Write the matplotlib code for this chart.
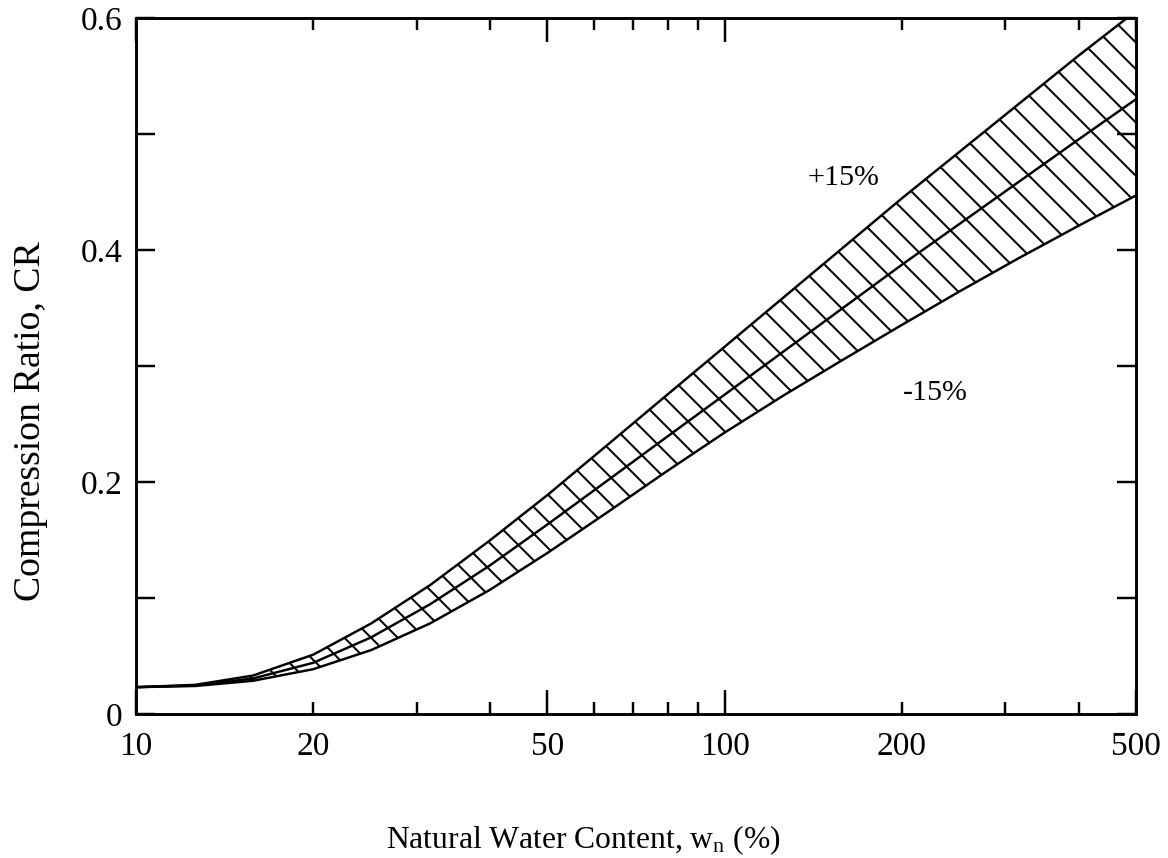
import matplotlib
matplotlib.use('Agg')
import matplotlib.pyplot as plt
from matplotlib.ticker import FixedLocator, NullFormatter

# 차트 데이터
wn = [10, 12.6, 15.8, 20, 25.1, 31.6, 39.8, 50.1, 63.1, 79.4,
      100, 125.9, 158.5, 199.5, 251.2, 316.2, 398.1, 500]
cr_mid = [0.023, 0.0245, 0.0305, 0.044, 0.066, 0.0945, 0.1275, 0.1636, 0.2008, 0.238,
          0.2752, 0.3124, 0.3496, 0.3868, 0.4228, 0.4588, 0.4948, 0.530]
cr_upper = [0.023, 0.025, 0.033, 0.051, 0.078, 0.111, 0.149, 0.189, 0.2315, 0.274,
            0.3165, 0.359, 0.4015, 0.444, 0.485, 0.526, 0.567, 0.606]
cr_lower = [0.023, 0.024, 0.0285, 0.0385, 0.055, 0.078, 0.1065, 0.139, 0.1735, 0.2085,
            0.2425, 0.2745, 0.305, 0.335, 0.3645, 0.393, 0.4205, 0.447]

x_ticks = [10, 20, 50, 100, 200, 500]
x_minor = [30, 40, 60, 70, 80, 90, 300, 400]
y_ticks = [0, 0.2, 0.4, 0.6]
y_minor = [0.1, 0.3, 0.5]

plt.rcParams['font.family'] = ['Liberation Serif', 'DejaVu Serif']
plt.rcParams['mathtext.fontset'] = 'custom'
plt.rcParams['mathtext.rm'] = 'Liberation Serif'
plt.rcParams['hatch.linewidth'] = 1.8

fig = plt.figure(figsize=(14.6, 10.725), dpi=80)
ax = fig.add_axes([0.1164, 0.168, 0.8562, 0.811])

# 해칭 영역 (+15% ~ -15%)
ax.fill_between(wn, cr_lower, cr_upper, facecolor='white', edgecolor='black',
                hatch='\\', linewidth=0)
ax.plot(wn, cr_upper, color='black', lw=2.2)
ax.plot(wn, cr_mid, color='black', lw=2.2)
ax.plot(wn, cr_lower, color='black', lw=2.2)

ax.set_xscale('log')
ax.set_xlim(10, 500)
ax.set_ylim(0, 0.6)

ax.xaxis.set_major_locator(FixedLocator(x_ticks))
ax.set_xticklabels([str(v) for v in x_ticks])
ax.xaxis.set_minor_locator(FixedLocator(x_minor))
ax.xaxis.set_minor_formatter(NullFormatter())
ax.yaxis.set_major_locator(FixedLocator(y_ticks))
ax.set_yticklabels(['0', '0.2', '0.4', '0.6'])
ax.yaxis.set_minor_locator(FixedLocator(y_minor))

ax.tick_params(axis='both', which='both', direction='in', top=True, right=True,
               width=2.2, labelsize=30, colors='black')
ax.tick_params(axis='x', which='major', length=22, pad=16)
ax.tick_params(axis='x', which='minor', length=11)
ax.tick_params(axis='y', which='both', length=17, pad=12)

# 20, 200 눈금은 짧게
for t in ax.xaxis.get_major_ticks():
    if t.get_loc() in (20, 200):
        t.tick1line.set_markersize(11)
        t.tick2line.set_markersize(11)

for s in ax.spines.values():
    s.set_linewidth(2.6)

ax.text(159, 0.462, '+15%', fontsize=27, ha='center', va='center')
ax.text(228, 0.277, '-15%', fontsize=27, ha='center', va='center')

ax.set_xlabel(r'Natural Water Content, $\mathregular{w_n}$ (%)', fontsize=28.5)
ax.xaxis.set_label_coords(0.447, -0.157)
ax.set_ylabel('Compression Ratio, CR', fontsize=34)
ax.yaxis.set_label_coords(-0.088, 0.42)

fig.savefig('out.png', dpi=80)
